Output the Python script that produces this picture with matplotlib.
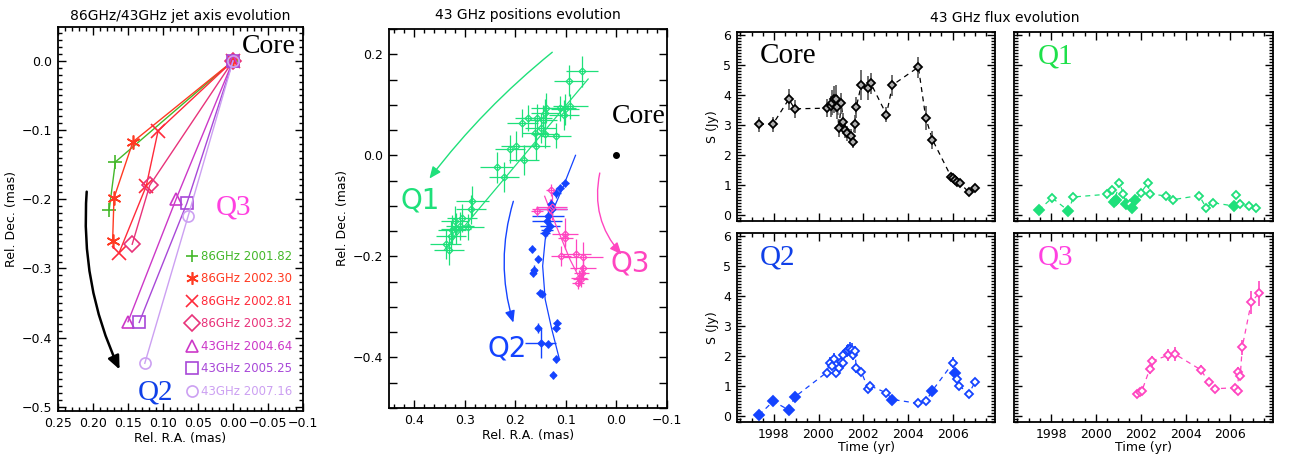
import matplotlib
matplotlib.use('Agg')
import matplotlib.pyplot as plt
from matplotlib.patches import FancyArrowPatch
from matplotlib.ticker import MultipleLocator, FuncFormatter, NullFormatter
from matplotlib.lines import Line2D

plt.rcParams['font.family'] = ['DejaVu Sans']
plt.rcParams['font.size'] = 9

# ---------------- Panel 1: jet axis evolution ----------------
epoch_labels = ['86GHz 2001.82', '86GHz 2002.30', '86GHz 2002.81', '86GHz 2003.32',
                '43GHz 2004.64', '43GHz 2005.25', '43GHz 2007.16']
epoch_colors = ['#44B82A', '#FF3A22', '#FF2A3A', '#E8337A', '#CC38C8', '#A848D8', '#CCA0F2']
epoch_markers = ['+', (6, 2, 0), 'x', 'D', '^', 's', 'o']
axis_ra = [[0.0, 0.168, 0.177],
           [0.0, 0.143, 0.170, 0.172],
           [0.0, 0.107, 0.124, 0.163],
           [0.0, 0.119, 0.144],
           [0.0, 0.081, 0.150],
           [0.0, 0.066, 0.134],
           [0.0, 0.064, 0.126]]
axis_dec = [[0.0, -0.146, -0.216],
            [0.0, -0.117, -0.198, -0.261],
            [0.0, -0.101, -0.181, -0.278],
            [0.0, -0.180, -0.265],
            [0.0, -0.199, -0.377],
            [0.0, -0.206, -0.378],
            [0.0, -0.224, -0.437]]
p1_arrow_ra = [0.209, 0.162]
p1_arrow_dec = [-0.189, -0.446]

# ---------------- Panel 2: 43 GHz positions ----------------
q1_ra = [0.068, 0.094, 0.091, 0.102, 0.104, 0.112, 0.140, 0.142, 0.158, 0.175, 0.186,
         0.145, 0.150, 0.161, 0.142, 0.119, 0.198, 0.210, 0.159, 0.183, 0.237, 0.222,
         0.285, 0.288, 0.305, 0.320, 0.318, 0.293, 0.326, 0.328, 0.338, 0.331, 0.310]
q1_dec = [0.166, 0.148, 0.097, 0.091, 0.080, 0.093, 0.093, 0.084, 0.074, 0.074, 0.064,
          0.070, 0.054, 0.044, 0.042, 0.039, 0.018, 0.013, 0.018, -0.009, -0.024, -0.043,
          -0.091, -0.107, -0.124, -0.129, -0.145, -0.142, -0.147, -0.159, -0.176, -0.188, -0.140]
q1_xerr = [0.032, 0.030, 0.035, 0.028, 0.030, 0.032, 0.030, 0.028, 0.030, 0.025, 0.030,
           0.028, 0.030, 0.025, 0.028, 0.030, 0.030, 0.030, 0.028, 0.030, 0.032, 0.030,
           0.032, 0.030, 0.030, 0.028, 0.030, 0.030, 0.028, 0.030, 0.030, 0.030, 0.028]
q1_yerr = [0.030, 0.030, 0.025, 0.030, 0.030, 0.025, 0.030, 0.028, 0.028, 0.025, 0.028,
           0.030, 0.030, 0.025, 0.028, 0.025, 0.030, 0.028, 0.028, 0.030, 0.030, 0.030,
           0.030, 0.028, 0.028, 0.028, 0.030, 0.025, 0.028, 0.030, 0.030, 0.030, 0.028]
q1_fit_ra = [0.341, 0.056]
q1_fit_dec = [-0.188, 0.151]

q2_ra = [0.102, 0.112, 0.119, 0.129, 0.127, 0.135, 0.138, 0.132, 0.137, 0.142, 0.168,
         0.155, 0.163, 0.165, 0.152, 0.148, 0.117, 0.119, 0.155, 0.150, 0.135, 0.120, 0.125]
q2_dec = [-0.055, -0.064, -0.074, -0.097, -0.107, -0.120, -0.130, -0.140, -0.147, -0.153, -0.186,
          -0.206, -0.226, -0.232, -0.272, -0.275, -0.331, -0.341, -0.341, -0.372, -0.374, -0.403, -0.434]
q2_xerr = [0.008, 0.008, 0.010, 0.008, 0.030, 0.032, 0.030, 0.020, 0.012, 0.010, 0.006,
           0.006, 0.006, 0.006, 0.008, 0.006, 0.008, 0.008, 0.006, 0.031, 0.008, 0.006, 0.006]
q2_yerr = [0.008, 0.008, 0.010, 0.010, 0.012, 0.012, 0.010, 0.010, 0.012, 0.010, 0.008,
           0.008, 0.008, 0.008, 0.008, 0.008, 0.008, 0.008, 0.010, 0.030, 0.008, 0.008, 0.008]
q2_track_ra = [0.081, 0.105, 0.128, 0.141, 0.146, 0.141, 0.128, 0.113]
q2_track_dec = [0.000, -0.061, -0.114, -0.167, -0.219, -0.285, -0.344, -0.403]

q3_ra = [0.130, 0.157, 0.1285, 0.132, 0.102, 0.101, 0.109, 0.080, 0.066, 0.066, 0.069, 0.074, 0.076, 0.071]
q3_dec = [-0.068, -0.111, -0.102, -0.107, -0.155, -0.164, -0.199, -0.196, -0.201, -0.222, -0.232, -0.242, -0.252, -0.245]
q3_xerr = [0.010, 0.012, 0.030, 0.035, 0.025, 0.015, 0.020, 0.030, 0.040, 0.025, 0.015, 0.015, 0.012, 0.015]
q3_yerr = [0.012, 0.010, 0.025, 0.020, 0.030, 0.015, 0.020, 0.030, 0.030, 0.020, 0.015, 0.015, 0.012, 0.015]
q3_track_ra = [0.142, 0.119, 0.092, 0.072]
q3_track_dec = [-0.081, -0.140, -0.206, -0.245]

p2_arrows = {  # start (ra, dec), end (ra, dec)
    'Q1': ((0.127, 0.204), (0.370, -0.046)),
    'Q2': ((0.204, -0.091), (0.204, -0.331)),
    'Q3': ((0.033, -0.035), (-0.010, -0.196)),
}

# ---------------- Flux panels ----------------
core_t = [1997.33, 1997.96, 1998.67, 1998.93, 2000.36, 2000.54, 2000.62, 2000.69, 2000.77, 2000.84,
          2000.91, 2001.02, 2001.11, 2001.18, 2001.29, 2001.44, 2001.54, 2001.62, 2001.69, 2001.91,
          2002.23, 2002.34, 2003.04, 2003.31, 2004.47, 2004.80, 2005.10, 2005.94, 2006.03, 2006.12,
          2006.22, 2006.33, 2006.73, 2007.00]
core_s = [3.03, 3.03, 3.86, 3.54, 3.56, 3.62, 3.75, 3.86, 3.88, 3.61, 2.90, 3.72, 3.10, 2.83, 2.72,
          2.62, 2.44, 3.02, 3.59, 4.33, 4.22, 4.39, 3.35, 4.33, 4.93, 3.24, 2.51, 1.27, 1.22, 1.17,
          1.11, 1.06, 0.76, 0.91]
core_e = [0.25, 0.25, 0.35, 0.30, 0.30, 0.35, 0.40, 0.45, 0.45, 0.40, 0.30, 0.35, 0.30, 0.25, 0.25,
          0.25, 0.20, 0.30, 0.35, 0.50, 0.40, 0.35, 0.25, 0.35, 0.35, 0.40, 0.30, 0.12, 0.12, 0.12,
          0.12, 0.12, 0.08, 0.10]
core_fill = [False] * len(core_t)

q1f_t = [1997.45, 1998.05, 1998.78, 1999.00, 2000.48, 2000.73, 2000.88, 2000.82, 2001.05, 2001.23,
         2001.35, 2001.53, 2001.63, 2001.75, 2002.00, 2002.32, 2002.40, 2003.13, 2003.44, 2004.61,
         2004.91, 2005.21, 2006.15, 2006.26, 2006.41, 2006.83, 2007.16]
q1f_s = [0.16, 0.57, 0.14, 0.60, 0.69, 0.84, 0.51, 0.44, 1.07, 0.71, 0.36, 0.38, 0.25, 0.49, 0.74,
         1.06, 0.71, 0.63, 0.51, 0.65, 0.25, 0.41, 0.30, 0.68, 0.38, 0.29, 0.24]
q1f_e = [0.05] * len(q1f_t)
q1f_fill = [True, False, True, False, False, False, True, True, False, False, True, False, True,
            True, False, False, False, False, False, False, False, False, True, False, False, False, False]

q2f_t = [1997.33, 1997.97, 1998.67, 1998.93, 2000.36, 2000.51, 2000.61, 2000.69, 2000.79, 2000.91,
         2000.99, 2001.11, 2001.11, 2001.26, 2001.33, 2001.41, 2001.48, 2001.54, 2001.63, 2001.69,
         2001.91, 2002.22, 2002.30, 2003.04, 2003.31, 2004.47, 2004.80, 2005.10, 2006.03, 2006.10,
         2006.18, 2006.30, 2006.72, 2007.00]
q2f_s = [0.03, 0.49, 0.20, 0.63, 1.45, 1.78, 1.67, 1.91, 1.45, 1.61, 1.80, 1.78, 2.02, 2.16, 2.19,
         2.24, 2.21, 2.05, 2.16, 1.59, 1.48, 0.91, 1.01, 0.77, 0.55, 0.42, 0.49, 0.85, 1.78, 1.45,
         1.25, 1.01, 0.74, 1.12]
q2f_e = [0.08, 0.08, 0.08, 0.10, 0.12, 0.18, 0.15, 0.20, 0.15, 0.15, 0.15, 0.15, 0.18, 0.20, 0.20,
         0.22, 0.22, 0.18, 0.18, 0.15, 0.12, 0.10, 0.10, 0.08, 0.08, 0.06, 0.06, 0.08, 0.18, 0.12,
         0.10, 0.10, 0.08, 0.10]
q2f_fill = [True, True, True, True, False, False, False, False, False, False, False, False, False,
            False, False, False, False, False, False, False, False, False, False, False, True, False,
            False, True, False, True, False, False, False, False]

q3f_t = [2001.83, 2001.98, 2002.05, 2002.40, 2002.50, 2003.21, 2003.51, 2004.68, 2005.03, 2005.31,
         2006.21, 2006.33, 2006.36, 2006.44, 2006.53, 2006.93, 2007.27]
q3f_s = [0.72, 0.79, 0.83, 1.56, 1.83, 2.02, 2.07, 1.54, 1.14, 0.91, 0.94, 0.83, 1.47, 1.34, 2.30,
         3.79, 4.09]
q3f_e = [0.06, 0.06, 0.06, 0.15, 0.18, 0.20, 0.22, 0.15, 0.10, 0.08, 0.08, 0.08, 0.15, 0.15, 0.25,
         0.38, 0.42]
q3f_fill = [False] * len(q3f_t)

C_Q1 = '#1EE07A'
C_Q2 = '#1443FF'
C_Q3 = '#FF45C0'

W, H = 1305, 454
fig = plt.figure(figsize=(W / 100, H / 100), dpi=100)


def rect(l, r, t, b):
    return [l / W, 1 - b / H, (r - l) / W, (b - t) / H]


def idl_ticks(ax, major_len=6, minor_len=3):
    ax.tick_params(which='both', direction='in', top=True, right=True, width=1.0, labelsize=9)
    ax.tick_params(which='major', length=major_len, pad=4)
    ax.tick_params(which='minor', length=minor_len)
    for s in ax.spines.values():
        s.set_linewidth(1.3)


serif = ['Liberation Serif', 'DejaVu Serif']

# ---------------- Panel 1 ----------------
ax1 = fig.add_axes(rect(58, 303, 27, 411))
handles = []
for lab, c, m, ra, de in zip(epoch_labels, epoch_colors, epoch_markers, axis_ra, axis_dec):
    linelike = m in ('+', 'x') or isinstance(m, tuple)
    ax1.plot(ra, de, color=c, lw=1.0, marker=m, ms=10 if linelike else 8,
             mfc=c if linelike else 'none', mec=c, mew=1.2)
    handles.append(Line2D([], [], color=c, ls='none', marker=m, ms=9 if linelike else 8,
                          mfc='none', mec=c, mew=1.2))
ax1.set_xlim(0.25, -0.1)
ax1.set_ylim(-0.506, 0.049)
ax1.xaxis.set_major_locator(MultipleLocator(0.05))
ax1.xaxis.set_minor_locator(MultipleLocator(0.01))
ax1.yaxis.set_major_locator(MultipleLocator(0.1))
ax1.yaxis.set_minor_locator(MultipleLocator(0.01))
ax1.xaxis.set_major_formatter(FuncFormatter(lambda v, p: ('%.1f' % v if abs(v + 0.1) < 1e-6 else '%.2f' % v).replace('-', '\u2212')))
ax1.yaxis.set_major_formatter(FuncFormatter(lambda v, p: ('%.1f' % v).replace('-', '\u2212')))
idl_ticks(ax1)
ax1.set_xlabel('Rel. R.A. (mas)', fontsize=9, labelpad=2)
ax1.set_ylabel('Rel. Dec. (mas)', fontsize=9, labelpad=3)
ax1.set_title('86GHz/43GHz jet axis evolution', fontsize=10, pad=5)
leg = ax1.legend(handles, epoch_labels, loc='upper left', bbox_to_anchor=((187 - 58) / 245, (411 - 250) / 384),
                 frameon=False, fontsize=8.5, handlelength=0.8, handletextpad=0.35, labelspacing=0.8,
                 borderaxespad=0.0, borderpad=0.0)
for t, c in zip(leg.get_texts(), epoch_colors):
    t.set_color(c)
ax1.add_patch(FancyArrowPatch((p1_arrow_ra[0], p1_arrow_dec[0]), (p1_arrow_ra[1], p1_arrow_dec[1]),
                              connectionstyle='arc3,rad=0.13', arrowstyle='-|>,head_length=8,head_width=3.5',
                              color='black', lw=1.8, shrinkA=0, shrinkB=0))
ax1.text(0.861, 0.948, 'Core', transform=ax1.transAxes, ha='center', va='center', family=serif, fontsize=20)
ax1.text(0.718, 0.529, 'Q3', transform=ax1.transAxes, ha='center', va='center', family=serif, fontsize=21,
         color='#FF40E0')
ax1.text(0.396, 0.049, 'Q2', transform=ax1.transAxes, ha='center', va='center', family=serif, fontsize=21,
         color='#1040E8')

# ---------------- Panel 2 ----------------
ax2 = fig.add_axes(rect(389, 667, 29, 408))
ax2.plot(q1_fit_ra, q1_fit_dec, color=C_Q1, lw=0.9)
ax2.errorbar(q1_ra, q1_dec, xerr=q1_xerr, yerr=q1_yerr, fmt='D', ms=3.5, mfc='none', mec=C_Q1,
             ecolor=C_Q1, elinewidth=0.9, mew=0.9, capsize=0)
ax2.plot(q2_track_ra, q2_track_dec, color=C_Q2, lw=0.9)
ax2.errorbar(q2_ra, q2_dec, xerr=q2_xerr, yerr=q2_yerr, fmt='D', ms=3.5, mfc=C_Q2, mec=C_Q2,
             ecolor=C_Q2, elinewidth=1.0, mew=0.9, capsize=0)
ax2.plot(q3_track_ra, q3_track_dec, color=C_Q3, lw=0.9)
ax2.errorbar(q3_ra, q3_dec, xerr=q3_xerr, yerr=q3_yerr, fmt='D', ms=3.5, mfc='none', mec=C_Q3,
             ecolor=C_Q3, elinewidth=0.9, mew=0.9, capsize=0)
ax2.plot([0.0], [0.0], 'o', color='black', ms=4)
arrow_cfg = {'Q1': (C_Q1, 0.06), 'Q2': (C_Q2, 0.15), 'Q3': (C_Q3, 0.25)}
for k, (s, e) in p2_arrows.items():
    c, rad = arrow_cfg[k]
    ax2.add_patch(FancyArrowPatch(s, e, connectionstyle='arc3,rad=%g' % rad,
                                  arrowstyle='-|>,head_length=7,head_width=3', color=c, lw=1.0,
                                  shrinkA=0, shrinkB=0))
ax2.set_xlim(0.45, -0.1)
ax2.set_ylim(-0.5, 0.25)
ax2.xaxis.set_major_locator(MultipleLocator(0.1))
ax2.xaxis.set_minor_locator(MultipleLocator(0.02))
ax2.yaxis.set_major_locator(MultipleLocator(0.05))
ax2.xaxis.set_major_formatter(FuncFormatter(lambda v, p: ('%.1f' % v).replace('-', '\u2212')))
ax2.yaxis.set_major_formatter(FuncFormatter(
    lambda v, p: ('%.1f' % v).replace('-', '\u2212') if abs(round(v / 0.2) * 0.2 - v) < 1e-6 else ''))
idl_ticks(ax2)
ax2.set_xlabel('Rel. R.A. (mas)', fontsize=9, labelpad=2)
ax2.set_ylabel('Rel. Dec. (mas)', fontsize=9, labelpad=3)
ax2.set_title('43 GHz positions evolution', fontsize=10, pad=7)
ax2.text(0.995, 0.735, 'Core', transform=ax2.transAxes, ha='right', va='bottom', family=serif, fontsize=20)
thin = dict(family=['DejaVu Sans'], fontsize=20)
ax2.text(0.04, 0.51, 'Q1', transform=ax2.transAxes, ha='left', va='bottom', color=C_Q1, **thin)
ax2.text(0.355, 0.12, 'Q2', transform=ax2.transAxes, ha='left', va='bottom', color=C_Q2, **thin)
ax2.text(0.795, 0.345, 'Q3', transform=ax2.transAxes, ha='left', va='bottom', color=C_Q3, **thin)

# ---------------- Flux panels ----------------
flux_specs = [
    ('Core', rect(737, 995, 32, 221), core_t, core_s, core_e, core_fill, 'black', '#555555', True, False),
    ('Q1', rect(1014, 1273, 32, 221), q1f_t, q1f_s, q1f_e, q1f_fill, C_Q1, C_Q1, False, False),
    ('Q2', rect(737, 995, 233, 422), q2f_t, q2f_s, q2f_e, q2f_fill, C_Q2, C_Q2, True, True),
    ('Q3', rect(1014, 1273, 233, 422), q3f_t, q3f_s, q3f_e, q3f_fill, C_Q3, C_Q3, False, True),
]
label_colors = {'Core': 'black', 'Q1': '#1EE04A', 'Q2': '#1040E8', 'Q3': '#FF40E0'}
face_colors = {'Core': '#B0B0B0', 'Q1': 'white', 'Q2': 'white', 'Q3': 'white'}
for name, r, t, s, e, fill, c, ec, ylab, xlab in flux_specs:
    ax = fig.add_axes(r)
    ax.plot(t, s, ls=(0, (4, 3.5)), color=c, lw=0.9)
    ax.errorbar(t, s, yerr=e, fmt='none', ecolor=ec, elinewidth=1.2, capsize=0)
    for ti, si, fi in zip(t, s, fill):
        ax.plot([ti], [si], marker='D', ms=5 if fi else 4.5, mfc=c if fi else face_colors[name],
                mec=c, mew=1.3)
    ax.set_xlim(1996.35, 2007.9)
    ax.set_ylim(-0.2, 6.1)
    ax.xaxis.set_major_locator(MultipleLocator(2))
    ax.xaxis.set_minor_locator(MultipleLocator(0.5))
    ax.yaxis.set_major_locator(MultipleLocator(1))
    ax.yaxis.set_minor_locator(MultipleLocator(0.1))
    idl_ticks(ax, major_len=6, minor_len=3)
    if not xlab:
        ax.xaxis.set_major_formatter(NullFormatter())
    else:
        ax.set_xlabel('Time (yr)', fontsize=9, labelpad=0)
    if not ylab:
        ax.yaxis.set_major_formatter(NullFormatter())
    else:
        ax.set_ylabel('S (Jy)', fontsize=9, labelpad=3)
    ax.text(0.09, 0.94, name, transform=ax.transAxes, ha='left', va='top', family=serif, fontsize=21,
            color=label_colors[name])

fig.text(1005 / W, 1 - 18 / H, '43 GHz flux evolution', ha='center', va='center', fontsize=10)

fig.savefig('out.png', dpi=100)
